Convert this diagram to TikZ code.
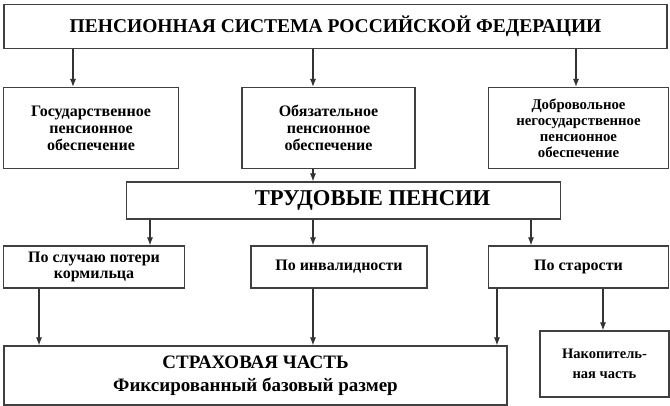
\documentclass[tikz,border=0pt]{standalone}
\usepackage{fontspec}
\setmainfont{Liberation Serif}
\usetikzlibrary{arrows.meta}
\begin{document}
\begin{tikzpicture}[x=1pt,y=-1pt,
    box/.style = {draw=black!75,line width=1.1pt,inner sep=2pt,align=center,
                  font=\bfseries\fontsize{16}{17}\selectfont},
    arrow/.style = {line width=1.1pt,draw=black!80,-{Latex[length=8pt,width=6pt]}}]
    \useasboundingbox (0,0) rectangle (670,406);

    % level 1
    \node[box,minimum width=663pt,minimum height=44pt,font=\bfseries\fontsize{19.5}{22}\selectfont]
        (sys) at (335.5,26.5) {ПЕНСИОННАЯ СИСТЕМА РОССИЙСКОЙ ФЕДЕРАЦИИ};

    % level 2
    \node[box,minimum width=175pt,minimum height=81pt] (gos) at (91,128) {Государственное\\пенсионное\\обеспечение};
    \node[box,minimum width=173pt,minimum height=81pt] (obyaz) at (328.5,128) {Обязательное\\пенсионное\\обеспечение};
    \node[box,minimum width=180pt,minimum height=81pt,font=\bfseries\fontsize{14.8}{16}\selectfont]
        (dobr) at (578.5,128) {Добровольное\\негосударственное\\пенсионное\\обеспечение};

    % level 3
    \node[box,minimum width=434pt,minimum height=37pt,font=\bfseries\fontsize{22.6}{24}\selectfont]
        (trud) at (343.5,200.5) {\hspace*{58pt}ТРУДОВЫЕ ПЕНСИИ};

    % level 4
    \node[box,minimum width=181pt,minimum height=42pt,font=\bfseries\fontsize{16}{16}\selectfont]
        (korm) at (94,267) {По случаю потери\\кормильца};
    \node[box,minimum width=176pt,minimum height=42pt] (inv) at (339,267) {По инвалидности};
    \node[box,minimum width=180pt,minimum height=42pt] (star) at (578.5,267) {По старости};

    % level 5
    \node[box,minimum width=503pt,minimum height=59pt,font=\bfseries\fontsize{19}{23}\selectfont]
        (strah) at (255.5,375.5) {СТРАХОВАЯ ЧАСТЬ\\Фиксированный базовый размер};
    \node[box,minimum width=129pt,minimum height=66pt,font=\bfseries\fontsize{14.5}{20}\selectfont]
        (nakop) at (604.5,364) {Накопитель-\\ная часть};

    % arrows
    \draw[arrow] (sys.south -| 73,0) -- (gos.north -| 73,0);
    \draw[arrow] (sys.south -| 313,0) -- (obyaz.north -| 313,0);
    \draw[arrow] (sys.south -| 576,0) -- (dobr.north -| 576,0);
    \draw[arrow] (obyaz.south -| 313,0) -- (trud.north -| 313,0);

    \draw[arrow] (trud.south -| 150,0) -- (korm.north -| 150,0);
    \draw[arrow] (trud.south -| 313,0) -- (inv.north -| 313,0);
    \draw[arrow] (trud.south -| 531,0) -- (star.north -| 531,0);

    \draw[arrow] (korm.south -| 39,0) -- (strah.north -| 39,0);
    \draw[arrow] (inv.south -| 313,0) -- (strah.north -| 313,0);
    \draw[arrow] (star.south -| 497,0) -- (strah.north -| 497,0);
    \draw[arrow] (star.south -| 603,0) -- (nakop.north -| 603,0);
\end{tikzpicture}
\end{document}
